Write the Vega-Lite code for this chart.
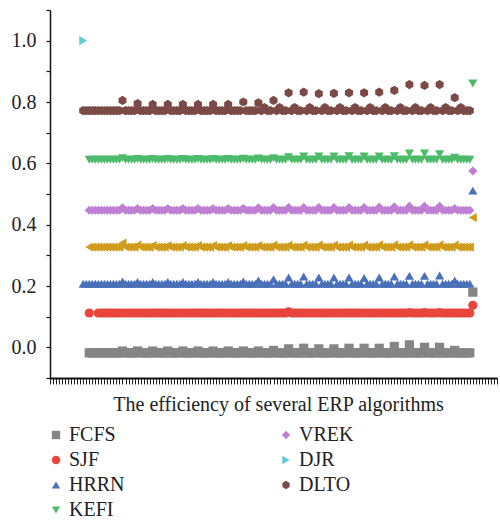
{
  "$schema": "https://vega.github.io/schema/vega-lite/v6.json",
  "width": 447,
  "height": 368,
  "autosize": "none",
  "padding": {"left": 50, "top": 10, "right": 3, "bottom": 143},
  "background": "white",
  "config": {
    "view": {"stroke": null},
    "font": "Liberation Serif"
  },
  "data": {"values": [
{"x":11,"HRRN":0.207,"DLTO":0.772,"DJR":1.0},
{"x":12,"HRRN":0.207,"DLTO":0.772},
{"x":13,"FCFS":-0.018,"SJF":0.112,"HRRN":0.207,"Other":0.327,"VREK":0.447,"KEFI":0.612,"DLTO":0.772},
{"x":14,"FCFS":-0.018,"HRRN":0.207,"Other":0.327,"VREK":0.447,"KEFI":0.612,"DLTO":0.772},
{"x":15,"FCFS":-0.018,"HRRN":0.207,"Other":0.327,"VREK":0.447,"KEFI":0.612,"DLTO":0.772},
{"x":16,"FCFS":-0.018,"SJF":0.112,"HRRN":0.207,"Other":0.327,"VREK":0.447,"KEFI":0.612,"DLTO":0.772},
{"x":17,"FCFS":-0.018,"SJF":0.112,"HRRN":0.207,"Other":0.327,"VREK":0.447,"KEFI":0.612,"DLTO":0.772},
{"x":18,"FCFS":-0.018,"SJF":0.112,"HRRN":0.207,"Other":0.327,"VREK":0.447,"KEFI":0.612,"DLTO":0.772},
{"x":19,"FCFS":-0.018,"SJF":0.112,"HRRN":0.207,"Other":0.327,"VREK":0.447,"KEFI":0.612,"DLTO":0.772},
{"x":20,"FCFS":-0.018,"SJF":0.112,"HRRN":0.207,"Other":0.327,"VREK":0.447,"KEFI":0.612,"DLTO":0.772},
{"x":21,"FCFS":-0.018,"SJF":0.112,"HRRN":0.207,"Other":0.327,"VREK":0.447,"KEFI":0.612,"DLTO":0.772},
{"x":22,"FCFS":-0.018,"SJF":0.112,"HRRN":0.207,"Other":0.327,"VREK":0.447,"KEFI":0.612,"DLTO":0.772},
{"x":23,"FCFS":-0.018,"SJF":0.112,"HRRN":0.207,"Other":0.327,"VREK":0.447,"KEFI":0.612,"DLTO":0.772},
{"x":24,"FCFS":-0.012,"SJF":0.112,"HRRN":0.215,"Other":0.340,"VREK":0.455,"KEFI":0.617,"DLTO":0.805},
{"x":25,"FCFS":-0.018,"SJF":0.112,"HRRN":0.207,"Other":0.327,"VREK":0.447,"KEFI":0.612,"DLTO":0.772},
{"x":26,"FCFS":-0.018,"SJF":0.112,"HRRN":0.207,"Other":0.327,"VREK":0.447,"KEFI":0.612,"DLTO":0.772},
{"x":27,"FCFS":-0.018,"SJF":0.112,"HRRN":0.207,"Other":0.327,"VREK":0.447,"KEFI":0.612,"DLTO":0.772},
{"x":28,"FCFS":-0.018,"SJF":0.112,"HRRN":0.207,"Other":0.327,"VREK":0.447,"KEFI":0.612,"DLTO":0.772},
{"x":29,"FCFS":-0.012,"SJF":0.112,"HRRN":0.213,"Other":0.334,"VREK":0.452,"KEFI":0.614,"DLTO":0.795},
{"x":30,"FCFS":-0.018,"SJF":0.112,"HRRN":0.207,"Other":0.327,"VREK":0.447,"KEFI":0.612,"DLTO":0.772},
{"x":31,"FCFS":-0.018,"SJF":0.112,"HRRN":0.207,"Other":0.327,"VREK":0.447,"KEFI":0.612,"DLTO":0.772},
{"x":32,"FCFS":-0.018,"SJF":0.112,"HRRN":0.207,"Other":0.327,"VREK":0.447,"KEFI":0.612,"DLTO":0.772},
{"x":33,"FCFS":-0.018,"SJF":0.112,"HRRN":0.207,"Other":0.327,"VREK":0.447,"KEFI":0.612,"DLTO":0.772},
{"x":34,"FCFS":-0.012,"SJF":0.112,"HRRN":0.213,"Other":0.332,"VREK":0.452,"KEFI":0.614,"DLTO":0.792},
{"x":35,"FCFS":-0.018,"SJF":0.112,"HRRN":0.207,"Other":0.327,"VREK":0.447,"KEFI":0.612,"DLTO":0.772},
{"x":36,"FCFS":-0.018,"SJF":0.112,"HRRN":0.207,"Other":0.327,"VREK":0.447,"KEFI":0.612,"DLTO":0.772},
{"x":37,"FCFS":-0.018,"SJF":0.112,"HRRN":0.207,"Other":0.327,"VREK":0.447,"KEFI":0.612,"DLTO":0.772},
{"x":38,"FCFS":-0.018,"SJF":0.112,"HRRN":0.207,"Other":0.327,"VREK":0.447,"KEFI":0.612,"DLTO":0.772},
{"x":39,"FCFS":-0.012,"SJF":0.112,"HRRN":0.213,"Other":0.332,"VREK":0.452,"KEFI":0.614,"DLTO":0.792},
{"x":40,"FCFS":-0.018,"SJF":0.112,"HRRN":0.207,"Other":0.327,"VREK":0.447,"KEFI":0.612,"DLTO":0.772},
{"x":41,"FCFS":-0.018,"SJF":0.112,"HRRN":0.207,"Other":0.327,"VREK":0.447,"KEFI":0.612,"DLTO":0.772},
{"x":42,"FCFS":-0.018,"SJF":0.112,"HRRN":0.207,"Other":0.327,"VREK":0.447,"KEFI":0.612,"DLTO":0.772},
{"x":43,"FCFS":-0.018,"SJF":0.112,"HRRN":0.207,"Other":0.327,"VREK":0.447,"KEFI":0.612,"DLTO":0.772},
{"x":44,"FCFS":-0.012,"SJF":0.112,"HRRN":0.213,"Other":0.332,"VREK":0.452,"KEFI":0.614,"DLTO":0.792},
{"x":45,"FCFS":-0.018,"SJF":0.112,"HRRN":0.207,"Other":0.327,"VREK":0.447,"KEFI":0.612,"DLTO":0.772},
{"x":46,"FCFS":-0.018,"SJF":0.112,"HRRN":0.207,"Other":0.327,"VREK":0.447,"KEFI":0.612,"DLTO":0.772},
{"x":47,"FCFS":-0.018,"SJF":0.112,"HRRN":0.207,"Other":0.327,"VREK":0.447,"KEFI":0.612,"DLTO":0.772},
{"x":48,"FCFS":-0.018,"SJF":0.112,"HRRN":0.207,"Other":0.327,"VREK":0.447,"KEFI":0.612,"DLTO":0.772},
{"x":49,"FCFS":-0.012,"SJF":0.112,"HRRN":0.213,"Other":0.332,"VREK":0.452,"KEFI":0.614,"DLTO":0.792},
{"x":50,"FCFS":-0.018,"SJF":0.112,"HRRN":0.207,"Other":0.327,"VREK":0.447,"KEFI":0.612,"DLTO":0.772},
{"x":51,"FCFS":-0.018,"SJF":0.112,"HRRN":0.207,"Other":0.327,"VREK":0.447,"KEFI":0.612,"DLTO":0.772},
{"x":52,"FCFS":-0.018,"SJF":0.112,"HRRN":0.207,"Other":0.327,"VREK":0.447,"KEFI":0.612,"DLTO":0.772},
{"x":53,"FCFS":-0.018,"SJF":0.112,"HRRN":0.207,"Other":0.327,"VREK":0.447,"KEFI":0.612,"DLTO":0.772},
{"x":54,"FCFS":-0.012,"SJF":0.112,"HRRN":0.213,"Other":0.332,"VREK":0.452,"KEFI":0.614,"DLTO":0.792},
{"x":55,"FCFS":-0.018,"SJF":0.112,"HRRN":0.207,"Other":0.327,"VREK":0.447,"KEFI":0.612,"DLTO":0.772},
{"x":56,"FCFS":-0.018,"SJF":0.112,"HRRN":0.207,"Other":0.327,"VREK":0.447,"KEFI":0.612,"DLTO":0.772},
{"x":57,"FCFS":-0.018,"SJF":0.112,"HRRN":0.207,"Other":0.327,"VREK":0.447,"KEFI":0.612,"DLTO":0.772},
{"x":58,"FCFS":-0.018,"SJF":0.112,"HRRN":0.207,"Other":0.327,"VREK":0.447,"KEFI":0.612,"DLTO":0.772},
{"x":59,"FCFS":-0.012,"SJF":0.112,"HRRN":0.213,"Other":0.332,"VREK":0.452,"KEFI":0.614,"DLTO":0.792},
{"x":60,"FCFS":-0.018,"SJF":0.112,"HRRN":0.207,"Other":0.327,"VREK":0.447,"KEFI":0.612,"DLTO":0.772},
{"x":61,"FCFS":-0.018,"SJF":0.112,"HRRN":0.207,"Other":0.327,"VREK":0.447,"KEFI":0.612,"DLTO":0.772},
{"x":62,"FCFS":-0.018,"SJF":0.112,"HRRN":0.207,"Other":0.327,"VREK":0.447,"KEFI":0.612,"DLTO":0.772},
{"x":63,"FCFS":-0.018,"SJF":0.112,"HRRN":0.207,"Other":0.327,"VREK":0.447,"KEFI":0.612,"DLTO":0.772},
{"x":64,"FCFS":-0.012,"SJF":0.112,"HRRN":0.215,"Other":0.332,"VREK":0.453,"KEFI":0.615,"DLTO":0.800},
{"x":65,"FCFS":-0.018,"SJF":0.112,"HRRN":0.207,"Other":0.327,"VREK":0.447,"KEFI":0.612,"DLTO":0.772},
{"x":66,"FCFS":-0.018,"SJF":0.112,"HRRN":0.207,"Other":0.327,"VREK":0.447,"KEFI":0.612,"DLTO":0.772},
{"x":67,"FCFS":-0.018,"SJF":0.112,"HRRN":0.207,"Other":0.327,"VREK":0.447,"KEFI":0.612,"DLTO":0.772},
{"x":68,"FCFS":-0.018,"SJF":0.112,"HRRN":0.207,"Other":0.327,"VREK":0.447,"KEFI":0.612,"DLTO":0.772},
{"x":69,"FCFS":-0.012,"SJF":0.112,"HRRN":0.218,"Other":0.332,"VREK":0.455,"KEFI":0.616,"DLTO":0.797},
{"x":70,"FCFS":-0.018,"SJF":0.112,"HRRN":0.207,"Other":0.327,"VREK":0.447,"KEFI":0.612,"DLTO":0.772},
{"x":71,"FCFS":-0.018,"SJF":0.112,"HRRN":0.207,"Other":0.327,"VREK":0.447,"KEFI":0.612,"DLTO":0.782},
{"x":72,"FCFS":-0.018,"SJF":0.112,"HRRN":0.207,"Other":0.327,"VREK":0.447,"KEFI":0.612,"DLTO":0.772},
{"x":73,"FCFS":-0.018,"SJF":0.112,"HRRN":0.207,"Other":0.327,"VREK":0.447,"KEFI":0.612,"DLTO":0.772},
{"x":74,"FCFS":-0.010,"SJF":0.112,"HRRN":0.222,"Other":0.333,"VREK":0.456,"KEFI":0.617,"DLTO":0.805},
{"x":75,"FCFS":-0.018,"SJF":0.112,"HRRN":0.207,"Other":0.327,"VREK":0.447,"KEFI":0.612,"DLTO":0.772},
{"x":76,"FCFS":-0.018,"SJF":0.112,"HRRN":0.207,"Other":0.327,"VREK":0.447,"KEFI":0.612,"DLTO":0.782},
{"x":77,"FCFS":-0.018,"SJF":0.112,"HRRN":0.207,"Other":0.327,"VREK":0.447,"KEFI":0.612,"DLTO":0.772},
{"x":78,"FCFS":-0.018,"SJF":0.112,"HRRN":0.207,"Other":0.327,"VREK":0.447,"KEFI":0.612,"DLTO":0.772},
{"x":79,"FCFS":-0.005,"SJF":0.116,"HRRN":0.228,"Other":0.333,"VREK":0.456,"KEFI":0.620,"DLTO":0.830},
{"x":80,"FCFS":-0.018,"SJF":0.112,"HRRN":0.207,"Other":0.327,"VREK":0.447,"KEFI":0.612,"DLTO":0.772},
{"x":81,"FCFS":-0.018,"SJF":0.112,"HRRN":0.207,"Other":0.327,"VREK":0.447,"KEFI":0.612,"DLTO":0.782},
{"x":82,"FCFS":-0.018,"SJF":0.112,"HRRN":0.207,"Other":0.327,"VREK":0.447,"KEFI":0.612,"DLTO":0.772},
{"x":83,"FCFS":-0.018,"SJF":0.112,"HRRN":0.207,"Other":0.327,"VREK":0.447,"KEFI":0.612,"DLTO":0.772},
{"x":84,"FCFS":-0.003,"SJF":0.112,"HRRN":0.231,"Other":0.333,"VREK":0.456,"KEFI":0.622,"DLTO":0.832},
{"x":85,"FCFS":-0.018,"SJF":0.112,"HRRN":0.207,"Other":0.327,"VREK":0.447,"KEFI":0.612,"DLTO":0.772},
{"x":86,"FCFS":-0.018,"SJF":0.112,"HRRN":0.207,"Other":0.327,"VREK":0.447,"KEFI":0.612,"DLTO":0.782},
{"x":87,"FCFS":-0.018,"SJF":0.112,"HRRN":0.207,"Other":0.327,"VREK":0.447,"KEFI":0.612,"DLTO":0.772},
{"x":88,"FCFS":-0.018,"SJF":0.112,"HRRN":0.207,"Other":0.327,"VREK":0.447,"KEFI":0.612,"DLTO":0.772},
{"x":89,"FCFS":-0.005,"SJF":0.112,"HRRN":0.228,"Other":0.333,"VREK":0.456,"KEFI":0.622,"DLTO":0.827},
{"x":90,"FCFS":-0.018,"SJF":0.112,"HRRN":0.207,"Other":0.327,"VREK":0.447,"KEFI":0.612,"DLTO":0.772},
{"x":91,"FCFS":-0.018,"SJF":0.112,"HRRN":0.207,"Other":0.327,"VREK":0.447,"KEFI":0.612,"DLTO":0.782},
{"x":92,"FCFS":-0.018,"SJF":0.112,"HRRN":0.207,"Other":0.327,"VREK":0.447,"KEFI":0.612,"DLTO":0.772},
{"x":93,"FCFS":-0.018,"SJF":0.112,"HRRN":0.207,"Other":0.327,"VREK":0.447,"KEFI":0.612,"DLTO":0.772},
{"x":94,"FCFS":-0.005,"SJF":0.112,"HRRN":0.228,"Other":0.333,"VREK":0.456,"KEFI":0.622,"DLTO":0.828},
{"x":95,"FCFS":-0.018,"SJF":0.112,"HRRN":0.207,"Other":0.327,"VREK":0.447,"KEFI":0.612,"DLTO":0.772},
{"x":96,"FCFS":-0.018,"SJF":0.112,"HRRN":0.207,"Other":0.327,"VREK":0.447,"KEFI":0.612,"DLTO":0.782},
{"x":97,"FCFS":-0.018,"SJF":0.112,"HRRN":0.207,"Other":0.327,"VREK":0.447,"KEFI":0.612,"DLTO":0.772},
{"x":98,"FCFS":-0.018,"SJF":0.112,"HRRN":0.207,"Other":0.327,"VREK":0.447,"KEFI":0.612,"DLTO":0.772},
{"x":99,"FCFS":-0.003,"SJF":0.112,"HRRN":0.228,"Other":0.333,"VREK":0.456,"KEFI":0.623,"DLTO":0.830},
{"x":100,"FCFS":-0.018,"SJF":0.112,"HRRN":0.207,"Other":0.327,"VREK":0.447,"KEFI":0.612,"DLTO":0.772},
{"x":101,"FCFS":-0.018,"SJF":0.112,"HRRN":0.207,"Other":0.327,"VREK":0.447,"KEFI":0.612,"DLTO":0.782},
{"x":102,"FCFS":-0.018,"SJF":0.112,"HRRN":0.207,"Other":0.327,"VREK":0.447,"KEFI":0.612,"DLTO":0.772},
{"x":103,"FCFS":-0.018,"SJF":0.112,"HRRN":0.207,"Other":0.327,"VREK":0.447,"KEFI":0.612,"DLTO":0.772},
{"x":104,"FCFS":-0.003,"SJF":0.112,"HRRN":0.226,"Other":0.333,"VREK":0.456,"KEFI":0.622,"DLTO":0.830},
{"x":105,"FCFS":-0.018,"SJF":0.112,"HRRN":0.207,"Other":0.327,"VREK":0.447,"KEFI":0.612,"DLTO":0.772},
{"x":106,"FCFS":-0.018,"SJF":0.112,"HRRN":0.207,"Other":0.327,"VREK":0.447,"KEFI":0.612,"DLTO":0.782},
{"x":107,"FCFS":-0.018,"SJF":0.112,"HRRN":0.207,"Other":0.327,"VREK":0.447,"KEFI":0.612,"DLTO":0.772},
{"x":108,"FCFS":-0.018,"SJF":0.112,"HRRN":0.207,"Other":0.327,"VREK":0.447,"KEFI":0.612,"DLTO":0.772},
{"x":109,"FCFS":-0.003,"SJF":0.112,"HRRN":0.228,"Other":0.334,"VREK":0.457,"KEFI":0.622,"DLTO":0.832},
{"x":110,"FCFS":-0.018,"SJF":0.112,"HRRN":0.207,"Other":0.327,"VREK":0.447,"KEFI":0.612,"DLTO":0.772},
{"x":111,"FCFS":-0.018,"SJF":0.112,"HRRN":0.207,"Other":0.327,"VREK":0.447,"KEFI":0.612,"DLTO":0.782},
{"x":112,"FCFS":-0.018,"SJF":0.112,"HRRN":0.207,"Other":0.327,"VREK":0.447,"KEFI":0.612,"DLTO":0.772},
{"x":113,"FCFS":-0.018,"SJF":0.112,"HRRN":0.207,"Other":0.327,"VREK":0.447,"KEFI":0.612,"DLTO":0.772},
{"x":114,"FCFS":0.003,"SJF":0.112,"HRRN":0.231,"Other":0.334,"VREK":0.458,"KEFI":0.623,"DLTO":0.838},
{"x":115,"FCFS":-0.018,"SJF":0.112,"HRRN":0.207,"Other":0.327,"VREK":0.447,"KEFI":0.612,"DLTO":0.772},
{"x":116,"FCFS":-0.018,"SJF":0.112,"HRRN":0.207,"Other":0.327,"VREK":0.447,"KEFI":0.612,"DLTO":0.782},
{"x":117,"FCFS":-0.018,"SJF":0.112,"HRRN":0.207,"Other":0.327,"VREK":0.447,"KEFI":0.612,"DLTO":0.772},
{"x":118,"FCFS":-0.018,"SJF":0.112,"HRRN":0.207,"Other":0.327,"VREK":0.447,"KEFI":0.612,"DLTO":0.772},
{"x":119,"FCFS":0.008,"SJF":0.113,"HRRN":0.233,"Other":0.334,"VREK":0.460,"KEFI":0.632,"DLTO":0.857},
{"x":120,"FCFS":-0.018,"SJF":0.112,"HRRN":0.207,"Other":0.327,"VREK":0.447,"KEFI":0.612,"DLTO":0.772},
{"x":121,"FCFS":-0.018,"SJF":0.112,"HRRN":0.207,"Other":0.327,"VREK":0.447,"KEFI":0.612,"DLTO":0.782},
{"x":122,"FCFS":-0.018,"SJF":0.112,"HRRN":0.207,"Other":0.327,"VREK":0.447,"KEFI":0.612,"DLTO":0.772},
{"x":123,"FCFS":-0.018,"SJF":0.112,"HRRN":0.207,"Other":0.327,"VREK":0.447,"KEFI":0.612,"DLTO":0.772},
{"x":124,"FCFS":0.000,"SJF":0.113,"HRRN":0.233,"Other":0.334,"VREK":0.460,"KEFI":0.632,"DLTO":0.854},
{"x":125,"FCFS":-0.018,"SJF":0.112,"HRRN":0.207,"Other":0.327,"VREK":0.447,"KEFI":0.612,"DLTO":0.772},
{"x":126,"FCFS":-0.018,"SJF":0.112,"HRRN":0.207,"Other":0.327,"VREK":0.447,"KEFI":0.612,"DLTO":0.782},
{"x":127,"FCFS":-0.018,"SJF":0.112,"HRRN":0.207,"Other":0.327,"VREK":0.447,"KEFI":0.612,"DLTO":0.772},
{"x":128,"FCFS":-0.018,"SJF":0.112,"HRRN":0.207,"Other":0.327,"VREK":0.447,"KEFI":0.612,"DLTO":0.772},
{"x":129,"FCFS":0.000,"SJF":0.113,"HRRN":0.234,"Other":0.334,"VREK":0.460,"KEFI":0.630,"DLTO":0.857},
{"x":130,"FCFS":-0.018,"SJF":0.112,"HRRN":0.207,"Other":0.327,"VREK":0.447,"KEFI":0.612,"DLTO":0.772},
{"x":131,"FCFS":-0.018,"SJF":0.112,"HRRN":0.207,"Other":0.327,"VREK":0.447,"KEFI":0.612,"DLTO":0.782},
{"x":132,"FCFS":-0.018,"SJF":0.112,"HRRN":0.207,"Other":0.327,"VREK":0.447,"KEFI":0.612,"DLTO":0.772},
{"x":133,"FCFS":-0.018,"SJF":0.112,"HRRN":0.207,"Other":0.327,"VREK":0.447,"KEFI":0.612,"DLTO":0.772},
{"x":134,"FCFS":-0.010,"SJF":0.112,"HRRN":0.218,"Other":0.333,"VREK":0.452,"KEFI":0.618,"DLTO":0.814},
{"x":135,"FCFS":-0.018,"SJF":0.112,"HRRN":0.207,"Other":0.327,"VREK":0.447,"KEFI":0.612,"DLTO":0.772},
{"x":136,"FCFS":-0.018,"SJF":0.112,"HRRN":0.207,"Other":0.327,"VREK":0.447,"KEFI":0.612,"DLTO":0.782},
{"x":137,"FCFS":-0.018,"SJF":0.112,"HRRN":0.207,"Other":0.327,"VREK":0.447,"KEFI":0.612,"DLTO":0.772},
{"x":138,"FCFS":-0.018,"SJF":0.112,"HRRN":0.207,"Other":0.327,"VREK":0.447,"KEFI":0.612,"DLTO":0.772},
{"x":139,"FCFS":-0.018,"SJF":0.112,"HRRN":0.207,"Other":0.327,"VREK":0.447,"KEFI":0.612,"DLTO":0.772},
{"x":140,"FCFS":0.180,"SJF":0.137,"HRRN":0.511,"Other":0.423,"VREK":0.575,"KEFI":0.860}
  ]},
  "transform": [
    {"fold": ["FCFS","SJF","HRRN","Other","VREK","KEFI","DLTO","DJR"], "as": ["algorithm","efficiency"]},
    {"filter": "isValid(datum.efficiency)"}
  ],
  "mark": {"type": "point", "filled": true, "size": 85, "opacity": 1, "strokeWidth": 0},
  "encoding": {
    "x": {
      "field": "x", "type": "quantitative",
      "scale": {"domain": [0, 148], "nice": false, "zero": false},
      "axis": {
        "title": "The efficiency of several ERP algorithms",
        "labels": false, "grid": false,
        "values": [0,1,2,3,4,5,6,7,8,9,10,11,12,13,14,15,16,17,18,19,20,21,22,23,24,25,26,27,28,29,30,31,32,33,34,35,36,37,38,39,40,41,42,43,44,45,46,47,48,49,50,51,52,53,54,55,56,57,58,59,60,61,62,63,64,65,66,67,68,69,70,71,72,73,74,75,76,77,78,79,80,81,82,83,84,85,86,87,88,89,90,91,92,93,94,95,96,97,98,99,100,101,102,103,104,105,106,107,108,109,110,111,112,113,114,115,116,117,118,119,120,121,122,123,124,125,126,127,128,129,130,131,132,133,134,135,136,137,138,139,140,141,142,143,144,145,146,147,148],
        "tickSize": 6, "tickWidth": 1, "tickColor": "#222",
        "domainColor": "#111", "domainWidth": 2,
        "titleFont": "Liberation Serif", "titleFontSize": 20, "titleFontWeight": "normal",
        "titleColor": "#222", "titlePadding": 10, "titleX": 228
      }
    },
    "y": {
      "field": "efficiency", "type": "quantitative",
      "scale": {"domain": [-0.1, 1.1], "nice": false, "zero": false},
      "axis": {
        "title": null, "grid": false,
        "values": [-0.1, 0, 0.1, 0.2, 0.3, 0.4, 0.5, 0.6, 0.7, 0.8, 0.9, 1.0, 1.1],
        "labelExpr": "round(datum.value*10) % 2 == 0 && datum.value > -0.05 && datum.value < 1.05 ? format(datum.value, '.1f') : ''",
        "tickSize": 4, "tickColor": "#111", "tickWidth": 1.2,
        "domainColor": "#111", "domainWidth": 1.5,
        "labelFont": "Liberation Serif", "labelFontSize": 20, "labelColor": "#222",
        "labelPadding": 10
      }
    },
    "color": {
      "field": "algorithm", "type": "nominal",
      "scale": {
        "domain": ["FCFS","SJF","HRRN","Other","VREK","KEFI","DLTO","DJR"],
        "range": ["#858585","#e8453c","#4a70b9","#d09b1c","#bf7fd3","#4dbb6a","#7b4a47","#5fcbd4"]
      },
      "legend": {
        "values": ["FCFS","SJF","HRRN","KEFI","VREK","DJR","DLTO"],
        "title": null, "orient": "none", "legendX": -4, "legendY": 415,
        "columns": 2, "columnPadding": 151, "rowPadding": 5, "padding": 0,
        "symbolSize": 70, "symbolStrokeWidth": 0, "labelOffset": 3,
        "labelFont": "Liberation Serif", "labelFontSize": 20, "labelColor": "#222"
      }
    },
    "shape": {
      "field": "algorithm", "type": "nominal",
      "scale": {
        "domain": ["FCFS","SJF","HRRN","Other","VREK","KEFI","DLTO","DJR"],
        "range": ["square","circle","triangle-up","triangle-left","diamond","triangle-down","M0,-1L0.866,-0.5L0.866,0.5L0,1L-0.866,0.5L-0.866,-0.5Z","triangle-right"]
      },
      "legend": {
        "values": ["FCFS","SJF","HRRN","KEFI","VREK","DJR","DLTO"],
        "title": null, "orient": "none", "legendX": -4, "legendY": 415,
        "columns": 2, "columnPadding": 151, "rowPadding": 5, "padding": 0,
        "symbolSize": 70, "symbolStrokeWidth": 0, "labelOffset": 3,
        "labelFont": "Liberation Serif", "labelFontSize": 20, "labelColor": "#222"
      }
    }
  }
}
